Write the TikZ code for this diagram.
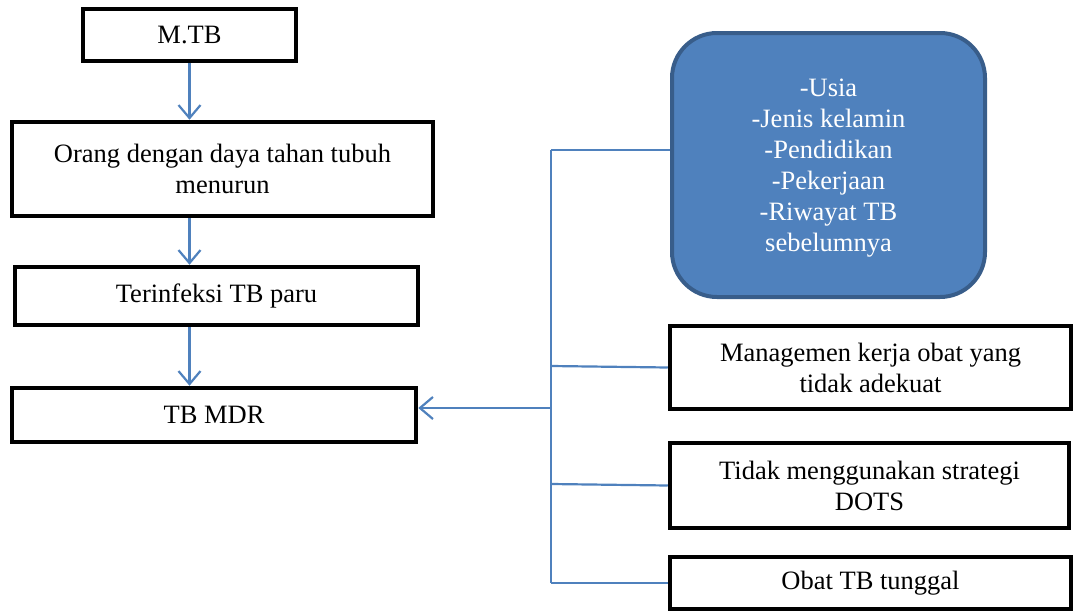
\documentclass[tikz,border=0pt]{standalone}
\usepackage{fontspec}
\setmainfont{Liberation Serif}
\usetikzlibrary{arrows.meta}
\definecolor{lblue}{HTML}{4F81BD}
\definecolor{dblue}{HTML}{385D8A}
\begin{document}
\begin{tikzpicture}[x=1pt,y=-1pt,
  box/.style={draw=black, line width=4.5pt, rectangle, align=center, inner sep=0pt,
    font=\fontsize{26.5}{31}\selectfont},
  rbox/.style={draw=dblue, fill=lblue, line width=4pt, rectangle, rounded corners=45pt,
    align=center, inner sep=0pt, text=white, font=\fontsize{26.5}{31}\selectfont},
  conn/.style={draw=lblue, line width=2.2pt},
  arr/.style={conn, -{Straight Barb[length=13pt,width=22pt]}}
]
\useasboundingbox (0,0) rectangle (1073,613);
\node[box, minimum width=213, minimum height=52] (mtb) at (189.5,35) {M.TB};
\node[box, minimum width=421, minimum height=94] (orang) at (222.5,169) {Orang dengan daya tahan tubuh\\menurun};
\node[box, minimum width=403, minimum height=58] (terinf) at (216.5,296) {Terinfeksi TB paru};
\node[box, minimum width=404, minimum height=54] (tbmdr) at (214,415) {TB MDR};
\node[rbox, minimum width=313, minimum height=264] (rb) at (828.5,165) {};
\node[text=white, align=center, inner sep=0pt, font=\fontsize{26.5}{31}\selectfont] (rbt) at (828.5,168) {-Usia\\-Jenis kelamin\\-Pendidikan\\-Pekerjaan\\-Riwayat TB\\sebelumnya};
\node[box, minimum width=401, minimum height=83] (man) at (870.5,367.5) {Managemen kerja obat yang\\tidak adekuat};
\node[box, minimum width=399, minimum height=85] (tid) at (869.5,485.5) {Tidak menggunakan strategi\\DOTS};
\node[box, minimum width=401, minimum height=52] (obat) at (870.5,583) {Obat TB tunggal};

\coordinate (c1) at (551,150);
\coordinate (c2) at (551,366);
\coordinate (c0) at (551,408);
\coordinate (c3) at (551,484);
\coordinate (c4) at (551,583);

\draw[arr] (mtb.south) -- (mtb.south |- orang.north);
\draw[arr] (orang.south -| mtb.south) -- (terinf.north -| mtb.south);
\draw[arr] (terinf.south -| mtb.south) -- (tbmdr.north -| mtb.south);

\draw[conn] (c1) -- (c4);
\draw[conn] (c1) -- (c1 -| rb.west);
\draw[conn] (c2) -- (man.west);
\draw[conn] (c3) -- (tid.west);
\draw[conn] (c4) -- (obat.west);
\draw[arr] (c0) -- (c0 -| tbmdr.east);
\end{tikzpicture}
\end{document}
